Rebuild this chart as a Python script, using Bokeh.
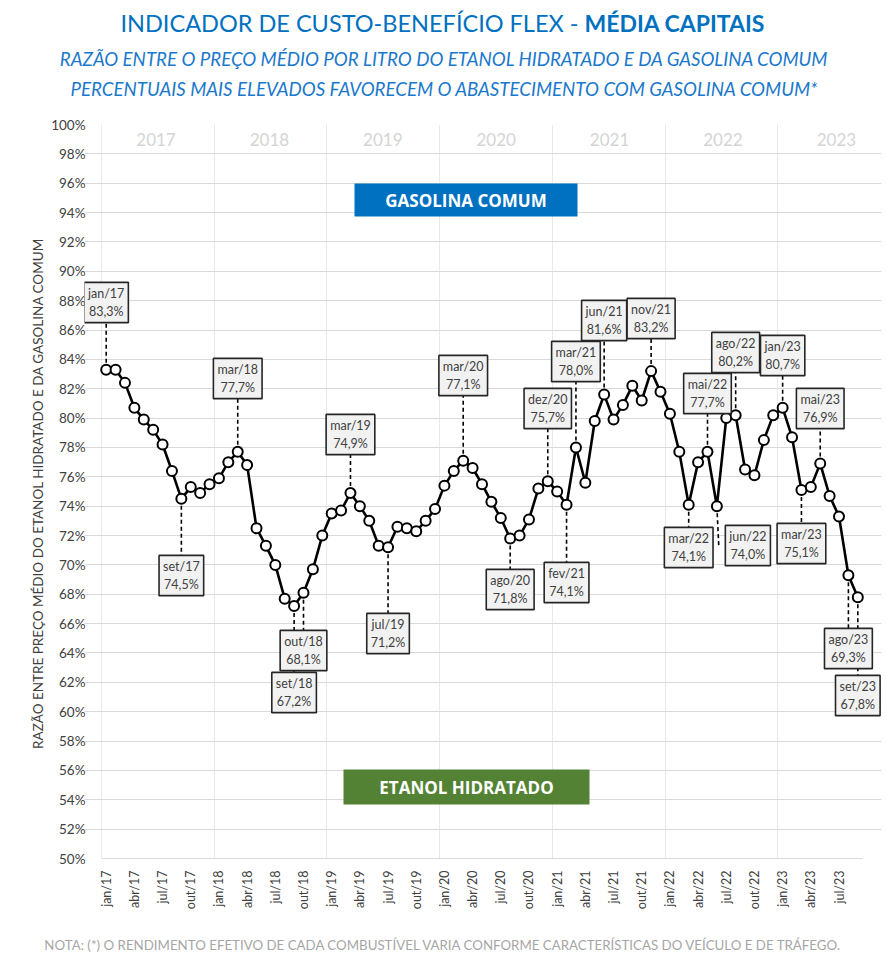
import math
from bokeh.plotting import figure
from bokeh.layouts import column
from bokeh.models import Range1d, FixedTicker, Label
from bokeh.core.properties import value
from bokeh.embed import file_html
from bokeh.resources import INLINE

# ---------------- data ----------------
MONTHS = ["jan", "fev", "mar", "abr", "mai", "jun", "jul", "ago", "set", "out", "nov", "dez"]
YEARS = ["2017", "2018", "2019", "2020", "2021", "2022", "2023"]

ratio_2017 = [83.3, 83.3, 82.4, 80.7, 79.9, 79.2, 78.2, 76.4, 74.5, 75.3, 74.9, 75.5]
ratio_2018 = [75.9, 77.0, 77.7, 76.8, 72.5, 71.3, 70.0, 67.7, 67.2, 68.1, 69.7, 72.0]
ratio_2019 = [73.5, 73.7, 74.9, 74.0, 73.0, 71.3, 71.2, 72.6, 72.5, 72.3, 73.0, 73.8]
ratio_2020 = [75.4, 76.4, 77.1, 76.6, 75.5, 74.3, 73.2, 71.8, 72.0, 73.1, 75.2, 75.7]
ratio_2021 = [75.0, 74.1, 78.0, 75.6, 79.8, 81.6, 79.9, 80.9, 82.2, 81.2, 83.2, 81.8]
ratio_2022 = [80.3, 77.7, 74.1, 77.0, 77.7, 74.0, 80.0, 80.2, 76.5, 76.1, 78.5, 80.2]
ratio_2023 = [80.7, 78.7, 75.1, 75.3, 76.9, 74.7, 73.3, 69.3, 67.8]

ratio = ratio_2017 + ratio_2018 + ratio_2019 + ratio_2020 + ratio_2021 + ratio_2022 + ratio_2023
categories = [f"{MONTHS[i % 12]}/{17 + i // 12}" for i in range(len(ratio))]
xs = list(range(len(ratio)))
N = len(ratio)

y_ticks = list(range(50, 101, 2))
x_tick_idx = list(range(0, N, 3))

annotated = ["jan/17", "set/17", "mar/18", "set/18", "out/18", "mar/19", "jul/19",
             "mar/20", "ago/20", "dez/20", "fev/21", "mar/21", "jun/21", "nov/21",
             "mar/22", "mai/22", "jun/22", "ago/22", "jan/23", "mar/23", "mai/23",
             "ago/23", "set/23"]

TITLE_A = "INDICADOR DE CUSTO-BENEFÍCIO FLEX -"
TITLE_B = "MÉDIA CAPITAIS"
SUB_1 = "RAZÃO ENTRE O PREÇO MÉDIO POR LITRO DO ETANOL HIDRATADO E DA GASOLINA COMUM"
SUB_2 = "PERCENTUAIS MAIS ELEVADOS FAVORECEM O ABASTECIMENTO COM GASOLINA COMUM*"
NOTE = "NOTA: (*) O RENDIMENTO EFETIVO DE CADA COMBUSTÍVEL VARIA CONFORME CARACTERÍSTICAS DO VEÍCULO E DE TRÁFEGO."
Y_LABEL = "RAZÃO  ENTRE PREÇO MÉDIO DO ETANOL HIDRATADO E DA GASOLINA COMUM"

# ---------------- layout (page pixels) ----------------
W = 886
TOP_H = 112
MAIN_H = 800
BOT_H = 48
FL, FR, FT, FB = 101.0, 862.0, 124.0, 858.0   # visible plot area
FRAME_L, FRAME_R = 84.0, 881.0                 # actual frame (room for overflowing boxes)
PX = (FR - FL) / N

def dx(px):
    return -0.5 + (px - FL) / PX

def dy(py):
    return 100 - (py - FT) * 50 / (FB - FT)

# label box centre (page y) and x shift (page px)
label_pos = {
    "jan/17": (302, 0), "set/17": (575, 0), "mar/18": (378, 0), "set/18": (692, 0),
    "out/18": (650, 0), "mar/19": (434, 0), "jul/19": (633, 0), "mar/20": (375, 0),
    "ago/20": (589, 0), "dez/20": (408, 0), "fev/21": (582, 0), "mar/21": (361, 0),
    "jun/21": (320, 0), "nov/21": (318, 0), "mar/22": (547, 0), "mai/22": (393, 0),
    "jun/22": (545, 31), "ago/22": (352, 0), "jan/23": (355, 0), "mar/23": (543, 0),
    "mai/23": (408, 0), "ago/23": (648, 0), "set/23": (695, 0),
}

TXT = "#404040"
BLUE = "#0070c0"
SUBBLUE = "#1a78cc"


def no_align(fig):
    try:
        fig.frame_align = False
    except Exception:
        pass


# ---------------- title strip ----------------
top = figure(width=W, height=TOP_H, output_backend="svg", toolbar_location=None,
             x_range=Range1d(0, W), y_range=Range1d(TOP_H, 0),
             x_axis_type=None, y_axis_type=None, min_border=0)
top.outline_line_color = None
top.grid.visible = False
no_align(top)
top.text(x=[578], y=[22], text=[TITLE_A], text_align="right", text_baseline="middle",
         text_font=value("Lato"), text_font_size="23.5px", text_color=BLUE)
top.text(x=[584], y=[22], text=[TITLE_B], text_align="left", text_baseline="middle",
         text_font=value("Lato"), text_font_style="bold", text_font_size="23px", text_color=BLUE)
top.text(x=[444, 444], y=[58, 88], text=[SUB_1, SUB_2], text_align="center", text_baseline="middle",
         text_font=value("Lato"), text_font_style="italic", text_font_size="18.7px", text_color=SUBBLUE)

# ---------------- main chart ----------------
p = figure(width=W, height=MAIN_H, output_backend="svg", toolbar_location=None,
           x_range=Range1d(dx(FRAME_L), dx(FRAME_R)), y_range=Range1d(50, 100),
           min_border_left=int(FRAME_L), min_border_right=int(W - FRAME_R),
           min_border_top=int(FT - TOP_H), min_border_bottom=int(MAIN_H - (FB - TOP_H)),
           background_fill_color="white", border_fill_color="white")
p.outline_line_color = None
no_align(p)

p.ygrid.ticker = FixedTicker(ticks=y_ticks)
p.ygrid.grid_line_color = "#d9d9d9"
p.ygrid.bounds = (-0.5, N - 0.5)
p.xgrid.ticker = FixedTicker(ticks=[-0.5 + 12 * k for k in range(len(YEARS))])
p.xgrid.grid_line_color = "#e9e9e9"
p.xgrid.bounds = (50, 100)

p.yaxis.ticker = FixedTicker(ticks=y_ticks)
p.yaxis.major_label_overrides = {t: f"{t}%" for t in y_ticks}
p.yaxis.axis_line_color = None
p.yaxis.major_tick_line_color = None
p.yaxis.minor_tick_line_color = None
p.yaxis.major_label_standoff = -7
p.yaxis.major_label_text_font = "Lato"
p.yaxis.major_label_text_font_size = "13.5px"
p.yaxis.major_label_text_color = TXT
p.yaxis.axis_label = Y_LABEL
p.yaxis.axis_label_text_font = "Lato"
p.yaxis.axis_label_text_font_style = "normal"
p.yaxis.axis_label_text_font_size = "13.5px"
p.yaxis.axis_label_text_color = TXT
p.yaxis.axis_label_standoff = 2

p.xaxis.ticker = FixedTicker(ticks=x_tick_idx)
p.xaxis.major_label_overrides = {i: categories[i] for i in x_tick_idx}
p.xaxis.major_label_orientation = math.pi / 2
p.xaxis.bounds = (-0.5, N - 0.5)
p.xaxis.axis_line_color = "#d9d9d9"
p.xaxis.major_tick_line_color = None
p.xaxis.minor_tick_line_color = None
p.xaxis.major_label_standoff = 6
p.xaxis.major_label_text_font = "Lato"
p.xaxis.major_label_text_font_size = "12.5px"
p.xaxis.major_label_text_color = TXT

# year labels
p.text(x=[5.3 + 12.07 * k for k in range(len(YEARS))], y=[99] * len(YEARS), text=YEARS,
       text_font=value("Lato"), text_font_size="17px", text_color="#d4d4d4",
       text_align="center", text_baseline="middle")

# region boxes
p.quad(left=[dx(354)], right=[dx(577)], top=[dy(183)], bottom=[dy(216)],
       fill_color=BLUE, line_color=None)
p.text(x=[(dx(354) + dx(577)) / 2], y=[(dy(183) + dy(216)) / 2], text=["GASOLINA COMUM"],
       text_font=value("Open Sans"), text_font_style="bold", text_font_size="17px",
       text_color="white", text_align="center", text_baseline="middle")
p.quad(left=[dx(343)], right=[dx(589)], top=[dy(769)], bottom=[dy(804)],
       fill_color="#548235", line_color=None)
p.text(x=[(dx(343) + dx(589)) / 2], y=[(dy(769) + dy(804)) / 2], text=["ETANOL HIDRATADO"],
       text_font=value("Open Sans"), text_font_style="bold", text_font_size="17px",
       text_color="white", text_align="center", text_baseline="middle")

# leader lines
sx0, sy0, sx1, sy1 = [], [], [], []
for cat in annotated:
    i = categories.index(cat)
    ly, shift = label_pos[cat]
    sx0.append(i)
    sy0.append(ratio[i])
    sx1.append(i + (0.2 if shift else 0))
    sy1.append(dy(ly))
p.segment(x0=sx0, y0=sy0, x1=sx1, y1=sy1, line_color="black", line_width=1.6, line_dash="4 3")

# main series
p.line(xs, ratio, line_color="black", line_width=2.6)
p.scatter(xs, ratio, size=10, marker="circle", fill_color="white", line_color="black", line_width=2)

# value labels
for cat in annotated:
    i = categories.index(cat)
    ly, shift = label_pos[cat]
    txt = f"{cat}\n{ratio[i]:.1f}".replace(".", ",") + "%"
    p.add_layout(Label(x=i + shift / PX, y=dy(ly), text=txt,
                       text_align="center", text_baseline="middle",
                       text_font="Lato", text_font_size="12.5px", text_color=TXT,
                       text_line_height=1.15,
                       background_fill_color="#f2f2f2", border_line_color="#262626",
                       border_line_width=1.6, padding=4))

# ---------------- footnote strip ----------------
bot = figure(width=W, height=BOT_H, output_backend="svg", toolbar_location=None,
             x_range=Range1d(0, W), y_range=Range1d(BOT_H, 0),
             x_axis_type=None, y_axis_type=None, min_border=0)
bot.outline_line_color = None
bot.grid.visible = False
no_align(bot)
bot.text(x=[443], y=[944 - TOP_H - MAIN_H], text=[NOTE], text_align="center", text_baseline="middle",
         text_font=value("Lato"), text_font_size="13.3px", text_color="#a6a6a6")

layout = column(top, p, bot, spacing=0)
open("out.html", "w").write(file_html(layout, INLINE))
